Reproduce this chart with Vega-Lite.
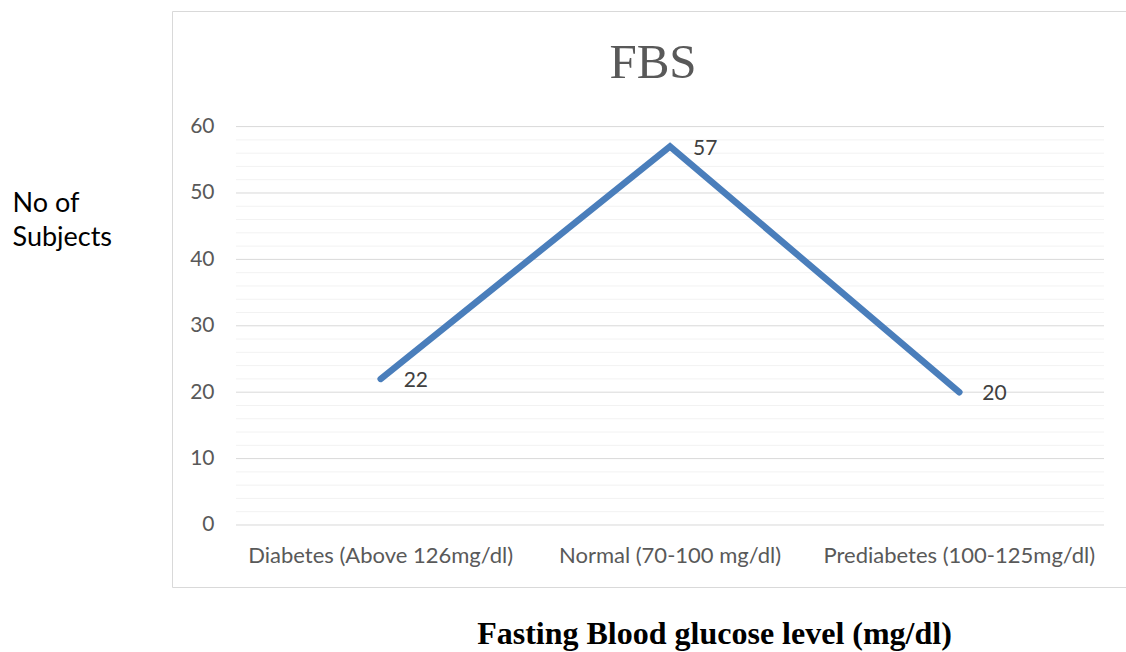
{
  "$schema": "https://vega.github.io/schema/vega-lite/v6.json",
  "width": 962,
  "height": 576,
  "autosize": {"type": "none"},
  "padding": {"left": 172, "top": 11, "right": -8, "bottom": 65},
  "background": "white",
  "config": {
    "view": {"stroke": "#d9d9d9", "strokeWidth": 1},
    "font": "Lato"
  },
  "title": {
    "text": "FBS",
    "font": "Liberation Serif",
    "fontSize": 49,
    "fontWeight": "normal",
    "color": "#595959",
    "anchor": "middle",
    "frame": "group",
    "baseline": "alphabetic",
    "offset": -71,
    "dy": 45
  },
  "datasets": {
    "fbs": [
      {"category": "Diabetes (Above 126mg/dl)", "subjects": 22},
      {"category": "Normal (70-100 mg/dl)", "subjects": 57},
      {"category": "Prediabetes (100-125mg/dl)", "subjects": 20}
    ],
    "minorGrid": [
      {"v": 2}, {"v": 4}, {"v": 6}, {"v": 8}, {"v": 12}, {"v": 14}, {"v": 16}, {"v": 18},
      {"v": 22}, {"v": 24}, {"v": 26}, {"v": 28}, {"v": 32}, {"v": 34}, {"v": 36}, {"v": 38},
      {"v": 42}, {"v": 44}, {"v": 46}, {"v": 48}, {"v": 52}, {"v": 54}, {"v": 56}, {"v": 58}
    ],
    "majorGrid": [
      {"v": 0}, {"v": 10}, {"v": 20}, {"v": 30}, {"v": 40}, {"v": 50}, {"v": 60}
    ]
  },
  "resolve": {"scale": {"x": "shared", "y": "shared"}},
  "layer": [
    {
      "data": {"name": "minorGrid"},
      "mark": {"type": "rule", "stroke": "#f2f2f2", "strokeWidth": 1},
      "encoding": {
        "y": {"field": "v", "type": "quantitative"},
        "x": {"datum": "Diabetes (Above 126mg/dl)", "bandPosition": 0},
        "x2": {"datum": "Prediabetes (100-125mg/dl)", "bandPosition": 1}
      }
    },
    {
      "data": {"name": "majorGrid"},
      "mark": {"type": "rule", "stroke": "#d9d9d9", "strokeWidth": 1},
      "encoding": {
        "y": {"field": "v", "type": "quantitative"},
        "x": {"datum": "Diabetes (Above 126mg/dl)", "bandPosition": 0},
        "x2": {"datum": "Prediabetes (100-125mg/dl)", "bandPosition": 1}
      }
    },
    {
      "data": {"name": "fbs"},
      "mark": {"type": "line", "stroke": "#4a7ebb", "strokeWidth": 6.5, "strokeCap": "round", "strokeJoin": "miter"},
      "encoding": {
        "x": {
          "field": "category",
          "type": "nominal",
          "bandPosition": 0.5,
          "scale": {
            "type": "band",
            "domain": ["Diabetes (Above 126mg/dl)", "Normal (70-100 mg/dl)", "Prediabetes (100-125mg/dl)"],
            "paddingInner": 0,
            "paddingOuter": 0.1624,
            "align": 0.681
          },
          "axis": {
            "orient": "bottom",
            "offset": -62,
            "domain": false,
            "ticks": false,
            "grid": false,
            "labelAngle": 0,
            "labelAlign": "center",
            "labelLimit": 0,
            "labelPadding": 30,
            "labelFont": "Lato",
            "labelFontSize": 22,
            "labelColor": "#595959",
            "title": "Fasting Blood glucose level (mg/dl)",
            "titleFont": "Liberation Serif",
            "titleFontWeight": "bold",
            "titleFontSize": 32,
            "titleColor": "#000000",
            "titleAlign": "center",
            "titleBaseline": "alphabetic",
            "titleX": 542,
            "titleY": 118
          }
        },
        "y": {
          "field": "subjects",
          "type": "quantitative",
          "scale": {"domain": [-9.34, 77.41], "nice": false, "zero": false},
          "axis": {
            "orient": "left",
            "offset": -64,
            "values": [0, 10, 20, 30, 40, 50, 60],
            "domain": false,
            "ticks": false,
            "grid": false,
            "labelPadding": 22,
            "labelFont": "Lato",
            "labelFontSize": 21,
            "labelColor": "#595959",
            "title": ["No of", "Subjects"],
            "titleFont": "Lato",
            "titleFontSize": 27,
            "titleFontWeight": "normal",
            "titleColor": "#000000",
            "titleAngle": 0,
            "titleAlign": "left",
            "titleBaseline": "alphabetic",
            "titleLineHeight": 34,
            "titleX": -224,
            "titleY": 200
          }
        }
      }
    },
    {
      "data": {"name": "fbs"},
      "mark": {"type": "text", "align": "left", "baseline": "middle", "dx": 23, "dy": 2, "font": "Lato", "fontSize": 21, "color": "#404040"},
      "encoding": {
        "x": {"field": "category", "type": "nominal", "bandPosition": 0.5},
        "y": {"field": "subjects", "type": "quantitative"},
        "text": {"field": "subjects", "type": "quantitative"}
      }
    }
  ]
}
